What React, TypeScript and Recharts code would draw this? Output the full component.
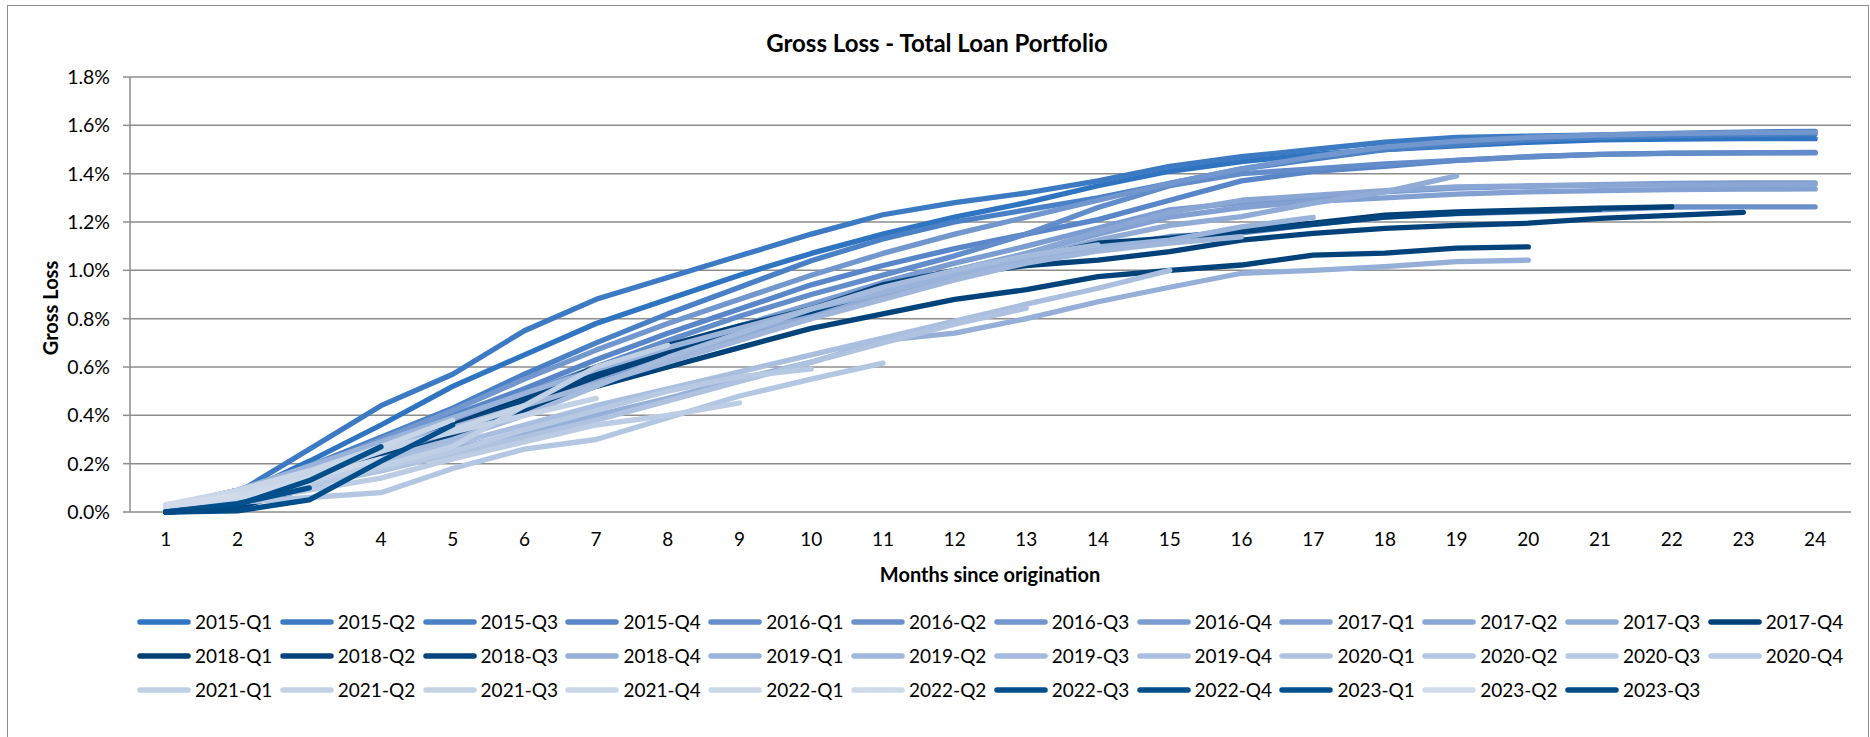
import { CartesianGrid, Line, LineChart, XAxis, YAxis } from "recharts";

const months = [1, 2, 3, 4, 5, 6, 7, 8, 9, 10, 11, 12, 13, 14, 15, 16, 17, 18, 19, 20, 21, 22, 23, 24];
// tick marks sit between the categories, like the original spreadsheet chart
const monthBounds = [0.5, 1.5, 2.5, 3.5, 4.5, 5.5, 6.5, 7.5, 8.5, 9.5, 10.5, 11.5, 12.5, 13.5, 14.5, 15.5, 16.5, 17.5, 18.5, 19.5, 20.5, 21.5, 22.5, 23.5, 24.5];
const yTicks = [0, 0.2, 0.4, 0.6, 0.8, 1.0, 1.2, 1.4, 1.6, 1.8];

const cohorts = [
  "2015-Q1", "2015-Q2", "2015-Q3", "2015-Q4", "2016-Q1", "2016-Q2", "2016-Q3", "2016-Q4", "2017-Q1", "2017-Q2", "2017-Q3", "2017-Q4",
  "2018-Q1", "2018-Q2", "2018-Q3", "2018-Q4", "2019-Q1", "2019-Q2", "2019-Q3", "2019-Q4", "2020-Q1", "2020-Q2", "2020-Q3", "2020-Q4",
  "2021-Q1", "2021-Q2", "2021-Q3", "2021-Q4", "2022-Q1", "2022-Q2", "2022-Q3", "2022-Q4", "2023-Q1", "2023-Q2", "2023-Q3",
];

const colors = [
  "#2f74c1", "#3c7ac4", "#4a80c6", "#5886c8", "#628cca", "#6a91cc", "#7296ce", "#7a9cd0", "#82a1d2", "#89a6d4", "#90abd6", "#00417a",
  "#003f76", "#00437b", "#00457e", "#95afd8", "#9ab3da", "#a0b7db", "#a5bbdd", "#aabfdf", "#afc3e0", "#b3c6e2", "#b7c9e3", "#bbcce4",
  "#bfcfe5", "#c2d1e6", "#c5d3e7", "#c8d6e8", "#cbd8e9", "#ced9ea", "#004f8c", "#004e8a", "#00508e", "#d2dbea", "#004b86",
];

// cumulative gross loss in %, one value per month since origination
const g2015Q1 = [0.01, 0.07, 0.21, 0.36, 0.52, 0.65, 0.78, 0.88, 0.98, 1.07, 1.15, 1.22, 1.28, 1.35, 1.41, 1.45, 1.48, 1.5, 1.515, 1.53, 1.54, 1.543, 1.545, 1.545];
const g2015Q2 = [0.01, 0.08, 0.26, 0.44, 0.57, 0.75, 0.88, 0.97, 1.06, 1.15, 1.23, 1.28, 1.32, 1.37, 1.43, 1.47, 1.5, 1.53, 1.55, 1.555, 1.56, 1.567, 1.572, 1.575];
const g2015Q3 = [0.02, 0.09, 0.19, 0.31, 0.43, 0.57, 0.7, 0.82, 0.93, 1.04, 1.13, 1.2, 1.25, 1.3, 1.36, 1.42, 1.46, 1.5, 1.52, 1.54, 1.55, 1.558, 1.562, 1.565];
const g2015Q4 = [0.02, 0.09, 0.18, 0.29, 0.4, 0.51, 0.63, 0.74, 0.84, 0.94, 1.02, 1.09, 1.15, 1.21, 1.29, 1.37, 1.41, 1.43, 1.455, 1.47, 1.48, 1.485, 1.486, 1.486];
const g2016Q1 = [0.02, 0.09, 0.17, 0.27, 0.38, 0.49, 0.6, 0.71, 0.81, 0.9, 0.98, 1.06, 1.15, 1.26, 1.35, 1.4, 1.42, 1.44, 1.455, 1.47, 1.48, 1.484, 1.486, 1.488];
const g2016Q2 = [0.02, 0.08, 0.16, 0.26, 0.35, 0.45, 0.55, 0.65, 0.74, 0.83, 0.91, 0.98, 1.04, 1.09, 1.14, 1.155, 1.19, 1.22, 1.235, 1.242, 1.25, 1.262, 1.263, 1.263];
const g2016Q3 = [0.02, 0.09, 0.18, 0.3, 0.42, 0.55, 0.67, 0.78, 0.88, 0.98, 1.07, 1.15, 1.22, 1.29, 1.36, 1.42, 1.47, 1.51, 1.535, 1.55, 1.56, 1.566, 1.57, 1.572];
const g2016Q4 = [0.02, 0.09, 0.17, 0.27, 0.37, 0.47, 0.57, 0.67, 0.77, 0.86, 0.95, 1.03, 1.1, 1.175, 1.25, 1.28, 1.3, 1.325, 1.34, 1.348, 1.355, 1.36, 1.362, 1.362];
const g2017Q1 = [0.02, 0.08, 0.16, 0.25, 0.35, 0.45, 0.55, 0.65, 0.74, 0.83, 0.92, 1.0, 1.07, 1.15, 1.22, 1.26, 1.285, 1.3, 1.315, 1.325, 1.33, 1.334, 1.336, 1.337];
const g2017Q2 = [0.02, 0.08, 0.15, 0.24, 0.33, 0.42, 0.52, 0.62, 0.72, 0.82, 0.91, 0.99, 1.07, 1.16, 1.24, 1.29, 1.31, 1.33, 1.345, 1.35, 1.352, 1.354, 1.355, 1.356];
const g2017Q3 = [0.02, 0.09, 0.17, 0.26, 0.35, 0.44, 0.53, 0.62, 0.72, 0.82, 0.9, 0.98, 1.05, 1.125, 1.186, 1.222, 1.278, 1.325, 1.391];
const g2017Q4 = [0.0, 0.02, 0.12, 0.24, 0.34, 0.45, 0.56, 0.66, 0.76, 0.84, 0.92, 0.98, 1.02, 1.042, 1.077, 1.125, 1.153, 1.174, 1.186, 1.195, 1.215, 1.227, 1.24];
const g2018Q1 = [0.0, 0.03, 0.14, 0.27, 0.36, 0.47, 0.6, 0.69, 0.77, 0.84, 0.94, 1.0, 1.05, 1.112, 1.133, 1.166, 1.195, 1.228, 1.242, 1.249, 1.257, 1.263];
const g2018Q2 = [0.0, 0.02, 0.1, 0.22, 0.31, 0.42, 0.52, 0.6, 0.68, 0.76, 0.82, 0.88, 0.92, 0.974, 1.0, 1.022, 1.063, 1.071, 1.092, 1.097];
const g2018Q3 = [0.0, 0.02, 0.11, 0.25, 0.35, 0.46, 0.58, 0.68, 0.76, 0.83, 0.92, 0.99, 1.04, 1.1, 1.13, 1.16, 1.19, 1.22, 1.236, 1.245, 1.253];
const g2018Q4 = [0.02, 0.07, 0.12, 0.19, 0.26, 0.33, 0.4, 0.47, 0.55, 0.62, 0.71, 0.74, 0.8, 0.87, 0.93, 0.988, 1.0, 1.015, 1.036, 1.042];
const g2019Q1 = [0.02, 0.09, 0.19, 0.29, 0.39, 0.49, 0.59, 0.68, 0.76, 0.84, 0.91, 0.98, 1.04, 1.097, 1.125, 1.18, 1.219];
const g2019Q2 = [0.02, 0.08, 0.17, 0.26, 0.35, 0.44, 0.53, 0.62, 0.71, 0.8, 0.88, 0.96, 1.03, 1.08, 1.113, 1.139];
const g2019Q3 = [0.02, 0.07, 0.14, 0.22, 0.3, 0.4, 0.52, 0.64, 0.74, 0.84, 0.93, 1.0, 1.06, 1.105];
const g2019Q4 = [0.02, 0.07, 0.13, 0.2, 0.28, 0.36, 0.44, 0.51, 0.58, 0.65, 0.72, 0.79, 0.86, 0.926, 1.0];
const g2020Q1 = [0.02, 0.06, 0.11, 0.17, 0.24, 0.31, 0.38, 0.46, 0.54, 0.62, 0.7, 0.777, 0.843];
const g2020Q2 = [0.01, 0.04, 0.06, 0.08, 0.18, 0.26, 0.3, 0.39, 0.48, 0.55, 0.616];
const g2020Q3 = [0.01, 0.06, 0.11, 0.18, 0.25, 0.34, 0.42, 0.5, 0.56, 0.592];
const g2020Q4 = [0.01, 0.05, 0.09, 0.14, 0.22, 0.29, 0.36, 0.4, 0.451];
const g2021Q1 = [0.02, 0.07, 0.13, 0.19, 0.27, 0.44, 0.6, 0.69];
const g2021Q2 = [0.02, 0.08, 0.16, 0.26, 0.33, 0.4, 0.47];
const g2021Q3 = [0.02, 0.08, 0.15, 0.25, 0.34, 0.44];
const g2021Q4 = [0.03, 0.09, 0.17, 0.27, 0.38];
const g2022Q1 = [0.02, 0.07, 0.14, 0.22];
const g2022Q2 = [0.02, 0.06, 0.12];
const g2022Q3 = [0.0, 0.005, 0.05, 0.21, 0.36];
const g2022Q4 = [0.0, 0.03, 0.13, 0.27];
const g2023Q1 = [0.0, 0.035, 0.1];
const g2023Q2 = [0.03, 0.07];
const g2023Q3 = [0.0, 0.01];

const series = [
  g2015Q1, g2015Q2, g2015Q3, g2015Q4, g2016Q1, g2016Q2, g2016Q3, g2016Q4, g2017Q1, g2017Q2, g2017Q3, g2017Q4,
  g2018Q1, g2018Q2, g2018Q3, g2018Q4, g2019Q1, g2019Q2, g2019Q3, g2019Q4, g2020Q1, g2020Q2, g2020Q3, g2020Q4,
  g2021Q1, g2021Q2, g2021Q3, g2021Q4, g2022Q1, g2022Q2, g2022Q3, g2022Q4, g2023Q1, g2023Q2, g2023Q3,
];

const rows = months.map((m, i) => {
  const r: Record<string, number | undefined> = { month: m };
  cohorts.forEach((c, k) => {
    r[c] = series[k][i];
  });
  return r;
});

const FONT = "Lato, 'Open Sans', sans-serif";
const GRID = "#8c8c8c";

function LegendItem({ name, color, index }: { name: string; color: string; index: number }) {
  const col = index % 12;
  const row = Math.floor(index / 12);
  return (
    <div
      style={{
        position: "absolute",
        left: 137 + col * 142.8,
        top: 611 + row * 34,
        height: 21,
        display: "flex",
        alignItems: "center",
        whiteSpace: "nowrap",
      }}
    >
      <svg width={54} height={8} style={{ display: "block" }}>
        <line x1={3} y1={4} x2={51} y2={4} stroke={color} strokeWidth={5.5} strokeLinecap="round" />
      </svg>
      <span style={{ marginLeft: 4, fontSize: 19, lineHeight: "21px", color: "#000" }}>{name}</span>
    </div>
  );
}

export default function App() {
  return (
    <div
      style={{
        position: "absolute",
        left: 0,
        top: 0,
        width: 1870,
        height: 737,
        overflow: "hidden",
        background: "#fff",
        fontFamily: FONT,
      }}
    >
      <div
        style={{
          position: "absolute",
          left: 7,
          top: 5,
          width: 1862,
          height: 780,
          border: `1.5px solid ${GRID}`,
          boxSizing: "border-box",
        }}
      />
      <div
        style={{
          position: "absolute",
          left: 937,
          top: 42,
          transform: "translate(-50%, -50%)",
          fontWeight: 700,
          fontSize: 24,
          whiteSpace: "nowrap",
        }}
      >
        Gross Loss - Total Loan Portfolio
      </div>
      <div
        style={{
          position: "absolute",
          left: 50,
          top: 308,
          transform: "translate(-50%, -50%) rotate(-90deg)",
          fontWeight: 700,
          fontSize: 20,
          whiteSpace: "nowrap",
        }}
      >
        Gross Loss
      </div>
      <div
        style={{
          position: "absolute",
          left: 990,
          top: 574,
          transform: "translate(-50%, -50%)",
          fontWeight: 700,
          fontSize: 20,
          whiteSpace: "nowrap",
        }}
      >
        Months since origination
      </div>

      <div style={{ position: "absolute", left: 0, top: 0 }}>
        <LineChart width={1870} height={737} data={rows} margin={{ top: 77, right: 19, bottom: 195, left: 70 }}>
          <CartesianGrid xAxisId="lbl" vertical={false} stroke={GRID} strokeWidth={1.5} />
          <XAxis
            xAxisId="tk"
            type="number"
            dataKey="month"
            domain={[0.5, 24.5]}
            ticks={monthBounds}
            tick={false}
            tickSize={7}
            height={0}
            stroke={GRID}
            strokeWidth={1.5}
          />
          <XAxis
            xAxisId="lbl"
            type="number"
            dataKey="month"
            domain={[0.5, 24.5]}
            ticks={months}
            interval={0}
            axisLine={false}
            tickLine={false}
            tickMargin={15}
            height={30}
            tick={{ fill: "#000", fontSize: 19, fontFamily: FONT }}
          />
          <YAxis
            domain={[0, 1.8]}
            ticks={yTicks}
            interval={0}
            width={60}
            tickSize={7}
            tickMargin={13}
            stroke={GRID}
            strokeWidth={1.5}
            tickFormatter={(v: number) => `${v.toFixed(1)}%`}
            tick={{ fill: "#000", fontSize: 19.5, fontFamily: FONT }}
          />
          {cohorts.map((c, k) => (
            <Line
              key={c}
              xAxisId="lbl"
              type="linear"
              dataKey={c}
              stroke={colors[k]}
              strokeWidth={5.3}
              strokeLinecap="round"
              strokeLinejoin="round"
              dot={false}
              activeDot={false}
              isAnimationActive={false}
            />
          ))}
        </LineChart>
      </div>

      {cohorts.map((c, k) => (
        <LegendItem key={c} name={c} color={colors[k]} index={k} />
      ))}
    </div>
  );
}
